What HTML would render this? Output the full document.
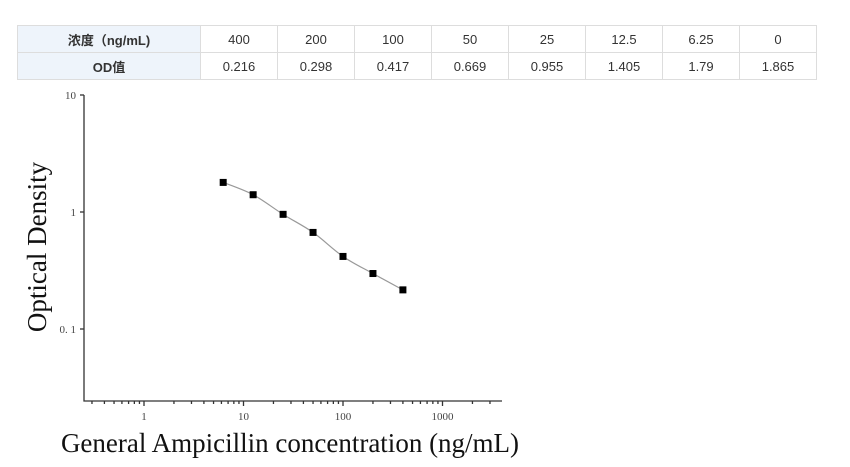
<!DOCTYPE html>
<html><head><meta charset="utf-8"><style>
body{margin:0;width:850px;height:467px;background:#fff;overflow:hidden;font-family:"Liberation Sans","Noto Sans CJK SC",sans-serif}
table{position:absolute;left:17px;top:25px;border-collapse:collapse;font-size:13px;color:#333}
td{border:1px solid #ddd;height:26px;text-align:center;padding:0;width:76px}
td.h{width:182px;background:#eef4fb;font-weight:bold}
svg{position:absolute;left:0;top:0}
</style></head><body>
<table>
<tr><td class="h">浓度（ng/mL)</td><td>400</td><td>200</td><td>100</td><td>50</td><td>25</td><td>12.5</td><td>6.25</td><td>0</td></tr>
<tr><td class="h">OD值</td><td>0.216</td><td>0.298</td><td>0.417</td><td>0.669</td><td>0.955</td><td>1.405</td><td>1.79</td><td>1.865</td></tr>
</table>
<svg id="chart" width="850" height="467"></svg>
<script>
const concentrations=[400,200,100,50,25,12.5,6.25];
const odValues=[0.216,0.298,0.417,0.669,0.955,1.405,1.79];
const xTickLabels=["1","10","100","1000"];
const yTickLabels=["10","1","0. 1"];
const yTickValues=[10,1,0.1];
const xTickValues=[1,10,100,1000];
const svg=document.getElementById('chart');
const NS='http://www.w3.org/2000/svg';
const X=v=>144+99.5*Math.log10(v);
const Y=v=>212-117*Math.log10(v);
function mk(t,a,p){const e=document.createElementNS(NS,t);for(const k in a)e.setAttribute(k,a[k]);(p||svg).appendChild(e);return e;}
const ax=mk('g',{stroke:'#333','stroke-width':1.3,fill:'none'});


mk('path',{d:'M84,95 V401 H502'},ax);
yTickValues.forEach((v,i)=>{
 mk('line',{x1:80,x2:84,y1:Y(v),y2:Y(v)},ax);
 const t=mk('text',{x:76,y:Y(v)+4,'text-anchor':'end','font-size':11,fill:'#444','font-family':'Liberation Serif, serif'});
 
 
 t.textContent=yTickLabels[i];
});
for(let d=-1;d<=3;d++)for(let m=1;m<=9;m++){
 const v=m*Math.pow(10,d);const x=X(v);if(x<86||x>502)continue;
 mk('line',{x1:x,x2:x,y1:401,y2:m==1?406:404},ax);
}
xTickValues.forEach((v,i)=>{
 const t=mk('text',{x:X(v),y:420,'text-anchor':'middle','font-size':11,fill:'#444','font-family':'Liberation Serif, serif'});
 
 
 t.textContent=xTickLabels[i];
});
const xt=mk('text',{x:290,y:452,'text-anchor':'middle','font-size':27,fill:'#111','font-family':'Liberation Serif, serif'});


xt.textContent='General Ampicillin concentration (ng/mL)';
const yt=mk('text',{x:0,y:0,transform:'translate(46,247) rotate(-90)','text-anchor':'middle','font-size':27,fill:'#111','font-family':'Liberation Serif, serif'});


yt.textContent='Optical Density';
const pts=concentrations.map((c,i)=>[X(c),Y(odValues[i])]).sort((a,b)=>a[0]-b[0]);
let d='M'+pts[0][0]+','+pts[0][1];
for(let i=0;i<pts.length-1;i++){
 const p0=pts[i-1]||pts[i],p1=pts[i],p2=pts[i+1],p3=pts[i+2]||p2;
 d+=` C${p1[0]+(p2[0]-p0[0])/6},${p1[1]+(p2[1]-p0[1])/6} ${p2[0]-(p3[0]-p1[0])/6},${p2[1]-(p3[1]-p1[1])/6} ${p2[0]},${p2[1]}`;
}
const curve=mk('path',{d:d,stroke:'#999','stroke-width':1.2,fill:'none'});


concentrations.forEach((c,i)=>{
 const r=mk('rect',{x:X(c)-3.5,y:Y(odValues[i])-3.5,width:7,height:7,fill:'#000'});
 
 
});
</script>
</body></html>
